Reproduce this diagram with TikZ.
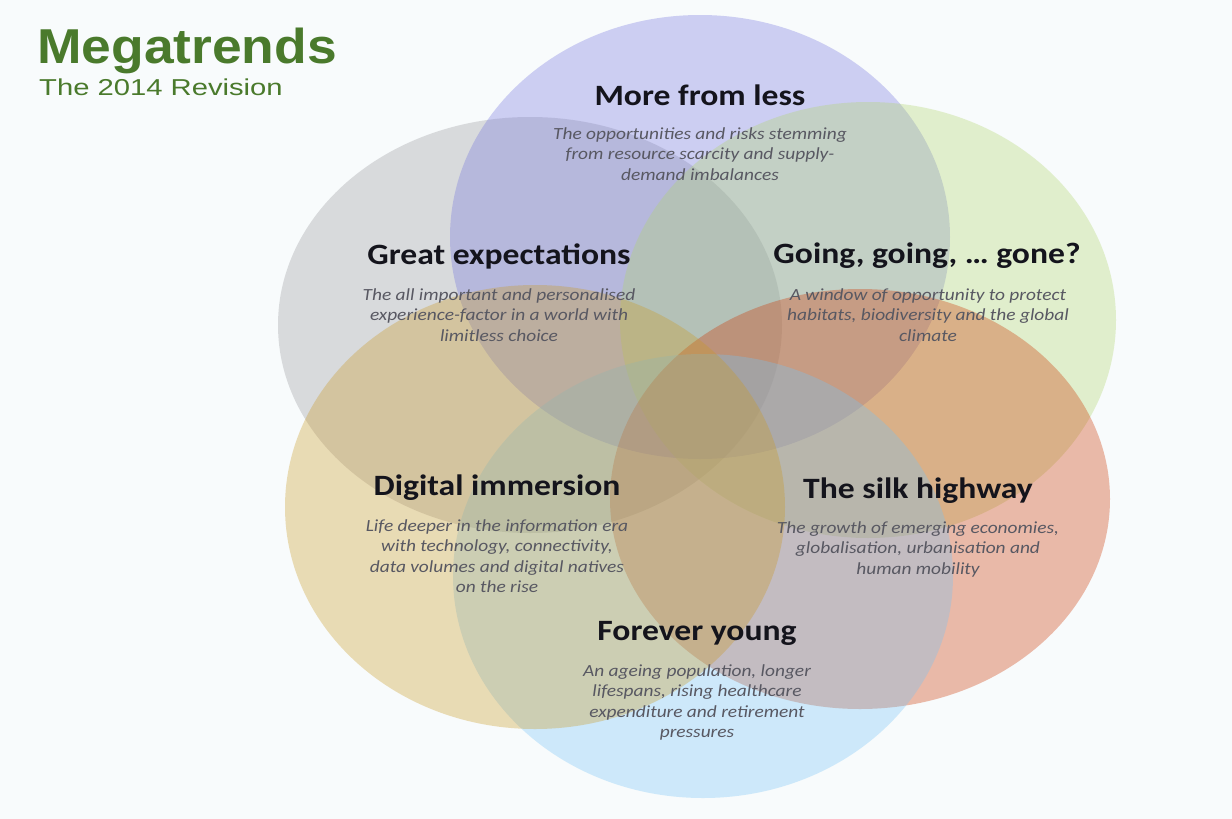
\documentclass[tikz,border=0pt]{standalone}
\usepackage{fontspec}
\setmainfont{Carlito}[FakeStretch=1.14]
\newfontfamily\headfont{Liberation Sans}[FakeStretch=1.09]
\newfontfamily\subheadfont{Liberation Sans}[FakeStretch=1.27]

\definecolor{bgcol}{RGB}{248,251,252}
\definecolor{greycol}{RGB}{151,151,156}
\definecolor{bluecol}{RGB}{115,115,222}
\definecolor{greencol}{RGB}{178,214,108}
\definecolor{redcol}{RGB}{205,52,0}
\definecolor{skycol}{RGB}{118,196,246}
\definecolor{tancol}{RGB}{202,154,36}
\definecolor{headgreen}{RGB}{74,122,44}
\definecolor{desccol}{RGB}{88,88,98}
\definecolor{titlecol}{RGB}{20,20,28}

\begin{document}
\begin{tikzpicture}[x=1pt, y=-1pt,
    blob/.style={fill opacity=0.33},
    title/.style={inner sep=0pt, text=titlecol, font=\fontsize{29.5}{32}\selectfont\bfseries},
    desc/.style={inner sep=0pt, anchor=north, align=center, text=desccol, font=\fontsize{17}{20.5}\selectfont\itshape}]
   \fill[bgcol] (0,0) rectangle (1232,819);

   % the six trends
   \fill[greycol, blob] (530,325) ellipse [x radius=252pt, y radius=208pt];
   \fill[bluecol, blob] (700,237) ellipse [x radius=250pt, y radius=222pt];
   \fill[greencol, blob] (868,320) ellipse [x radius=248pt, y radius=218pt];
   \fill[redcol, blob] (860,499) ellipse [x radius=250pt, y radius=210pt];
   \fill[skycol, blob] (703,576) ellipse [x radius=250pt, y radius=222pt];
   \fill[tancol, blob] (535,507) ellipse [x radius=250pt, y radius=222pt];

   \node[anchor=base west, inner sep=0pt, text=headgreen, font=\headfont\fontsize{49}{50}\selectfont\bfseries] (mega) at (37,63) {Megatrends};
   \node[anchor=base west, inner sep=0pt, text=headgreen, font=\subheadfont\fontsize{23}{24}\selectfont] (revision) at (39,95) {The 2014 Revision};

   \node[title] (more) at (700,95) {More from less};
   \node[desc] (moredesc) at (700,127) {The opportunities and risks stemming\\from resource scarcity and supply-\\demand imbalances};

   \node[title] (great) at (499,256) {Great expectations};
   \node[desc] (greatdesc) at (499,288) {The all important and personalised\\experience-factor in a world with\\limitless choice};

   \node[title] (going) at (927,256) {Going, going, … gone?};
   \node[desc] (goingdesc) at (928,288) {A window of opportunity to protect\\habitats, biodiversity and the global\\climate};

   \node[title] (digital) at (497,488) {Digital immersion};
   \node[desc] (digitaldesc) at (497,519) {Life deeper in the information era\\with technology, connectivity,\\data volumes and digital natives\\on the rise};

   \node[title] (silk) at (918,491) {The silk highway};
   \node[desc] (silkdesc) at (918,521) {The growth of emerging economies,\\globalisation, urbanisation and\\human mobility};

   \node[title] (forever) at (697,633) {Forever young};
   \node[desc] (foreverdesc) at (697,664) {An ageing population, longer\\lifespans, rising healthcare\\expenditure and retirement\\pressures};
\end{tikzpicture}
\end{document}
